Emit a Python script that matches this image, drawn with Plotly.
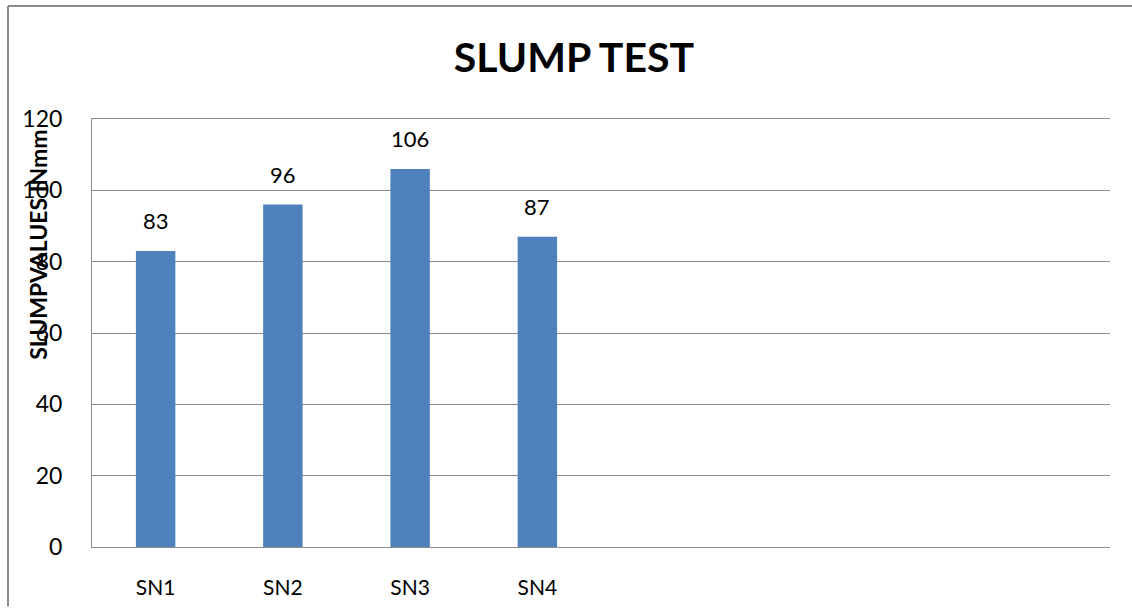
import plotly.graph_objects as go

categories = ["SN1", "SN2", "SN3", "SN4"]
slump_values = [83, 96, 106, 87]
y_ticks = [0, 20, 40, 60, 80, 100, 120]
n_slots = 8

positions = list(range(1, len(categories) + 1))

fig = go.Figure()
fig.add_trace(go.Bar(
    x=positions,
    y=slump_values,
    width=0.31,
    marker=dict(color="#4F81BD", line=dict(width=0)),
    hoverinfo="skip",
))

label_annotations = [
    dict(x=p, y=v, text=str(v), xref="x", yref="y", showarrow=False,
         yshift=30, xanchor="center", yanchor="middle",
         font=dict(family="Lato", size=22, color="#000000"))
    for p, v in zip(positions, slump_values)
]

fig.update_layout(
    width=1132, height=611,
    margin=dict(l=92, r=22, t=119, b=60),
    paper_bgcolor="white", plot_bgcolor="white",
    showlegend=False,
    font=dict(family="Lato", color="#000000"),
    title=dict(text="<b>SLUMP TEST</b>", x=0.507, xanchor="center", y=0.905, yanchor="middle",
               font=dict(family="Lato", size=41, color="#000000")),
    xaxis=dict(
        range=[0.5, n_slots + 0.5],
        tickmode="array", tickvals=positions, ticktext=categories,
        tickfont=dict(family="Lato", size=21),
        showgrid=False, zeroline=False,
        showline=True, mirror=True, linecolor="#8C8C8C", linewidth=1,
        ticks="", ticklabelstandoff=22,
    ),
    yaxis=dict(
        range=[0, 120],
        tickmode="array", tickvals=y_ticks,
        tickfont=dict(family="Lato", size=23),
        showgrid=True, gridcolor="#8C8C8C", gridwidth=1,
        zeroline=True, zerolinecolor="#8C8C8C", zerolinewidth=1,
        showline=True, linecolor="#8C8C8C", linewidth=1,
        ticks="", ticklabelstandoff=24,
    ),
    annotations=label_annotations + [dict(
        text="<b>SLUMPVALUES INmm</b>", textangle=-90,
        xref="paper", yref="paper",
        x=(38 - 92) / 1018, y=(551 - 246) / 432,
        xanchor="center", yanchor="middle", showarrow=False,
        font=dict(family="Lato", size=23, color="#000000"),
    )],
    shapes=[
        dict(type="line", xref="paper", yref="paper",
             x0=(8 - 92) / 1018, x1=(1132 - 92) / 1018,
             y0=(551 - 5) / 432, y1=(551 - 5) / 432,
             line=dict(color="#8C8C8C", width=2)),
        dict(type="line", xref="paper", yref="paper",
             x0=(8 - 92) / 1018, x1=(8 - 92) / 1018,
             y0=(551 - 5) / 432, y1=(551 - 611) / 432,
             line=dict(color="#8C8C8C", width=2)),
    ],
)

fig.write_html(
    "out.html",
    config={"displayModeBar": False},
    post_script="document.body.style.margin='0';document.body.style.padding='0';",
)
